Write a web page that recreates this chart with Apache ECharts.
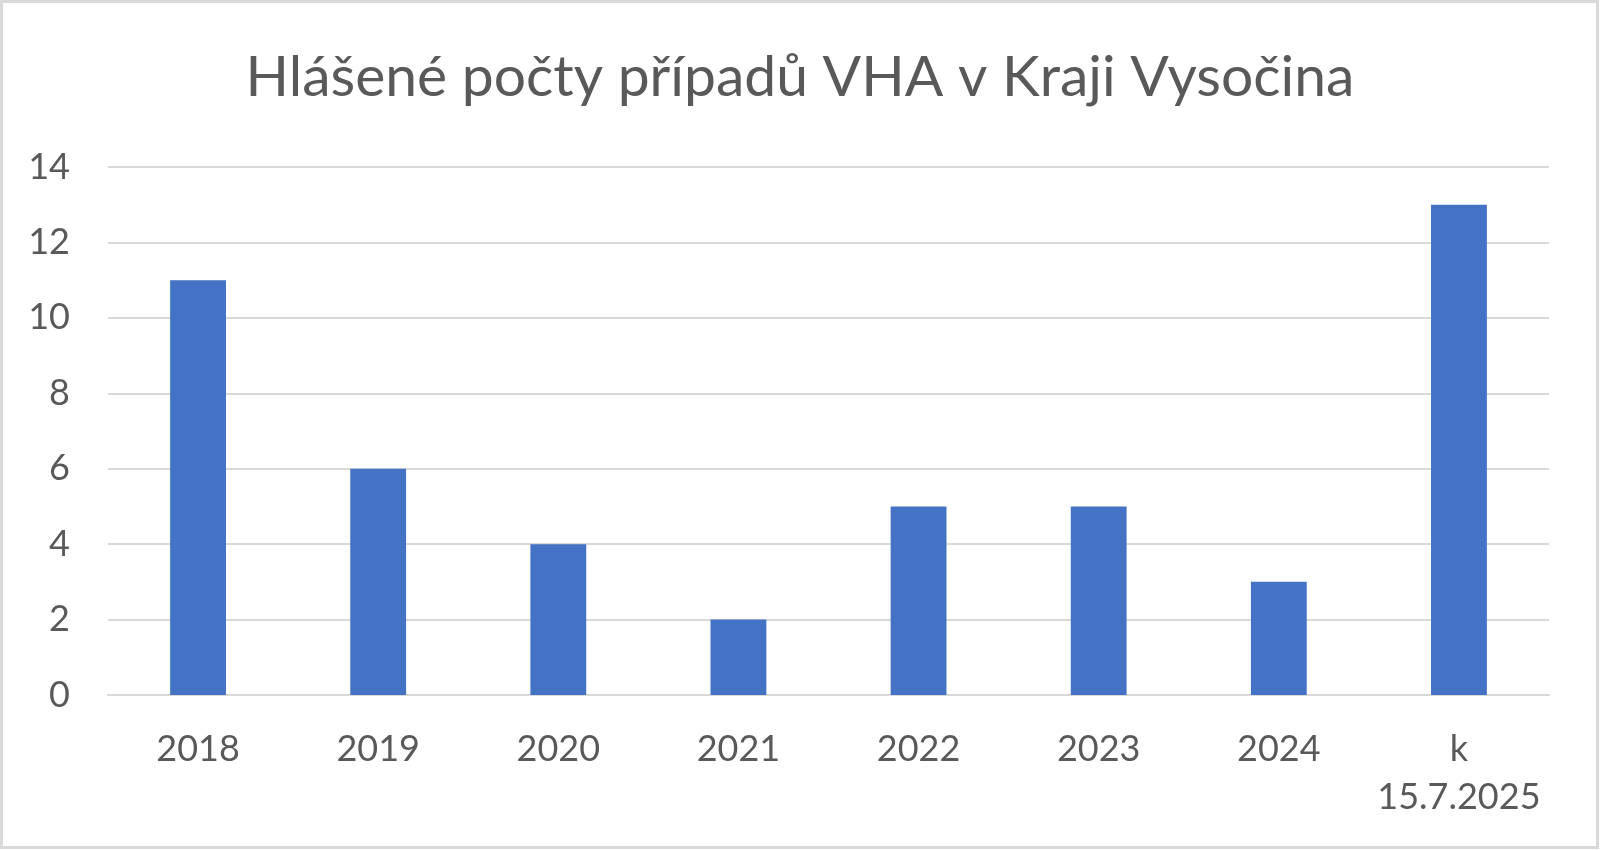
<!DOCTYPE html>
<html><head><meta charset="utf-8">
<script src="https://cdn.jsdelivr.net/npm/echarts@6/dist/echarts.min.js"></script>
<style>html,body{margin:0;padding:0;background:#fff}#c{width:1600px;height:850px}</style>
</head><body><div id="c"></div>
<script>
const title = 'Hlášené počty případů VHA v Kraji Vysočina';
const categories = ['2018','2019','2020','2021','2022','2023','2024','k\n15.7.2025'];
const values = [11, 6, 4, 2, 5, 5, 3, 13];
const yTicks = {min: 0, max: 14, interval: 2};

const chart = echarts.init(document.getElementById('c'), null, {renderer: 'canvas'});
const FONT = 'Lato';
chart.setOption({
  animation: false,
  backgroundColor: '#ffffff',
  title: {
    text: title, left: 'center', top: 44,
    textStyle: {fontFamily: FONT, fontSize: 57, fontWeight: 'normal', color: '#595959'}
  },
  graphic: [{
    type: 'rect', shape: {x: 1.5, y: 1.5, width: 1596, height: 846},
    style: {fill: 'none', stroke: '#d9d9d9', lineWidth: 3}, silent: true
  }],
  grid: {left: 108, right: 51, top: 167, bottom: 155, containLabel: false},
  xAxis: {
    type: 'category', data: categories,
    axisLine: {show: true, lineStyle: {color: '#d9d9d9', width: 2}},
    axisTick: {show: false},
    axisLabel: {fontFamily: FONT, fontSize: 36, color: '#595959', margin: 30, lineHeight: 48, interval: 0}
  },
  yAxis: {
    type: 'value', min: yTicks.min, max: yTicks.max, interval: yTicks.interval,
    axisLine: {show: false}, axisTick: {show: false},
    splitLine: {lineStyle: {color: '#d9d9d9', width: 2}},
    axisLabel: {fontFamily: FONT, fontSize: 36, color: '#595959', margin: 38}
  },
  series: [{
    type: 'bar', data: values, barWidth: '31%',
    itemStyle: {color: '#4472C4'}
  }]
});
</script></body></html>
